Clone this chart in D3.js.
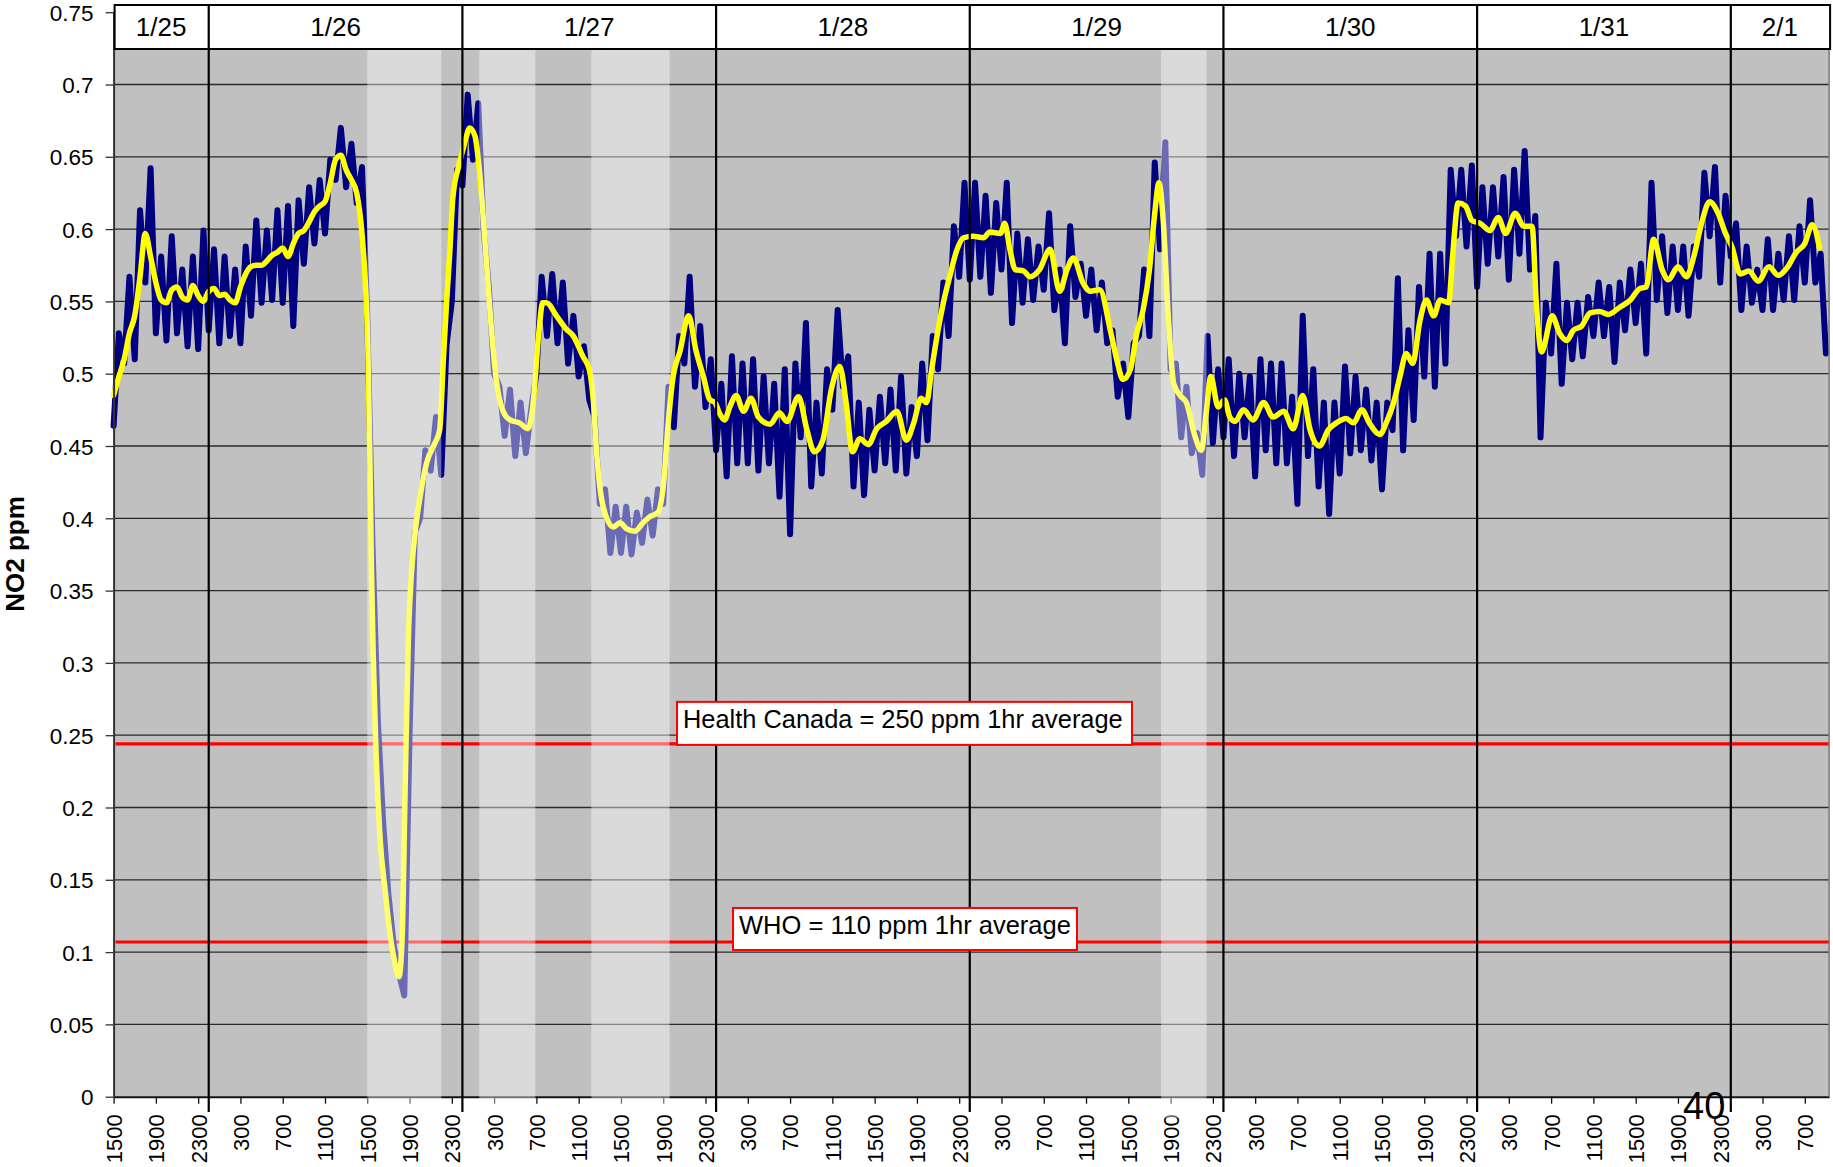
<!DOCTYPE html>
<html>
<head>
<meta charset="utf-8">
<script src="https://cdn.jsdelivr.net/npm/d3@7"></script>
<style>
  body { margin: 0; background: #fff; }
  svg { display: block; }
  text { font-family: "Liberation Sans", Arial, Helvetica, sans-serif; fill: #000; }
</style>
</head>
<body>
<svg id="chart" width="1833" height="1167"></svg>
<script>
// ---- data -------------------------------------------------------------
// Time is measured in hours from 1/25 15:00.
const dayLabels = ['1/25', '1/26', '1/27', '1/28', '1/29', '1/30', '1/31', '2/1'];
const dayStartHours = [0, 9, 33, 57, 81, 105, 129, 153];
const endHour = 162.3;

const hourTickHours = d3.range(0, 161, 4);
const hourTickLabels = [
  '1500', '1900', '2300', '300', '700', '1100',
  '1500', '1900', '2300', '300', '700', '1100',
  '1500', '1900', '2300', '300', '700', '1100',
  '1500', '1900', '2300', '300', '700', '1100',
  '1500', '1900', '2300', '300', '700', '1100',
  '1500', '1900', '2300', '300', '700', '1100',
  '1500', '1900', '2300', '300', '700'
];

const yTickValues = [0, 0.05, 0.1, 0.15, 0.2, 0.25, 0.3, 0.35, 0.4, 0.45, 0.5, 0.55, 0.6, 0.65, 0.7, 0.75];
const yTickLabels = ['0', '0.05', '0.1', '0.15', '0.2', '0.25', '0.3', '0.35', '0.4', '0.45', '0.5', '0.55', '0.6', '0.65', '0.7', '0.75'];

// Raw NO2 readings (ppm), one every 30 minutes starting at hour 0.
const rawNO2 = [
  0.464,0.528,0.507,0.567,0.51,0.613,0.563,0.642,0.528,0.581,0.523,0.595,0.528,0.572,0.519,0.581,0.517,0.599,0.53,0.586,
  0.521,0.581,0.526,0.572,0.521,0.588,0.54,0.606,0.549,0.599,0.551,0.613,0.549,0.616,0.533,0.62,0.576,0.629,0.59,0.634,
  0.597,0.648,0.634,0.67,0.629,0.659,0.618,0.643,0.54,0.38,0.26,0.19,0.14,0.105,0.085,0.07,0.25,0.39,0.40,0.447,
  0.433,0.47,0.43,0.52,0.55,0.641,0.63,0.693,0.648,0.687,0.60,0.56,0.50,0.491,0.457,0.489,0.443,0.48,0.445,0.475,
  0.50,0.567,0.526,0.569,0.521,0.563,0.507,0.54,0.498,0.519,0.482,0.47,0.41,0.42,0.376,0.408,0.376,0.408,0.375,0.404,
  0.383,0.413,0.388,0.42,0.41,0.491,0.463,0.526,0.507,0.567,0.491,0.533,0.477,0.51,0.447,0.493,0.429,0.512,0.438,0.507,
  0.438,0.51,0.433,0.498,0.438,0.493,0.415,0.503,0.389,0.507,0.456,0.535,0.422,0.48,0.431,0.503,0.475,0.544,0.491,0.512,
  0.422,0.48,0.416,0.475,0.433,0.484,0.438,0.489,0.433,0.498,0.431,0.477,0.443,0.507,0.454,0.526,0.503,0.563,0.526,0.602,
  0.567,0.632,0.565,0.632,0.567,0.623,0.556,0.618,0.572,0.632,0.535,0.597,0.549,0.593,0.551,0.588,0.558,0.611,0.544,0.572,
  0.521,0.602,0.553,0.576,0.54,0.572,0.53,0.563,0.521,0.53,0.484,0.507,0.47,0.521,0.526,0.572,0.526,0.646,0.586,0.66,
  0.503,0.507,0.456,0.491,0.445,0.459,0.43,0.526,0.452,0.503,0.456,0.51,0.443,0.50,0.456,0.498,0.429,0.51,0.447,0.507,
  0.438,0.507,0.438,0.484,0.41,0.54,0.443,0.503,0.422,0.48,0.403,0.48,0.431,0.505,0.445,0.498,0.447,0.489,0.44,0.48,
  0.42,0.48,0.461,0.566,0.447,0.53,0.468,0.56,0.498,0.583,0.491,0.583,0.507,0.641,0.595,0.641,0.588,0.644,0.56,0.629,
  0.576,0.629,0.581,0.636,0.565,0.641,0.583,0.654,0.572,0.609,0.456,0.549,0.514,0.576,0.493,0.549,0.51,0.549,0.512,0.553,
  0.526,0.563,0.526,0.56,0.508,0.563,0.53,0.572,0.535,0.576,0.514,0.632,0.551,0.595,0.542,0.588,0.544,0.588,0.54,0.588,
  0.567,0.639,0.595,0.643,0.563,0.623,0.581,0.604,0.544,0.588,0.549,0.572,0.544,0.593,0.544,0.583,0.551,0.595,0.551,0.602,
  0.563,0.62,0.563,0.583,0.514
];

// Running average of NO2 (ppm) as [hour, value].
const avgNO2 = [
  [0,0.485],[0.5,0.498],[1,0.51],[1.5,0.528],[2,0.54],[2.5,0.567],[3,0.597],[3.5,0.581],[4,0.563],[4.5,0.551],
  [5,0.549],[5.5,0.558],[6,0.56],[6.5,0.553],[7,0.551],[7.5,0.561],[8,0.554],[8.5,0.55],[9,0.557],[9.5,0.559],
  [10,0.554],[10.5,0.555],[11,0.551],[11.5,0.549],[12,0.56],[12.5,0.569],[13,0.574],[13.5,0.575],[14,0.575],[14.5,0.578],
  [15,0.582],[15.5,0.584],[16,0.587],[16.5,0.581],[17,0.59],[17.5,0.597],[18,0.599],[18.5,0.605],[19,0.612],[19.5,0.616],
  [20,0.619],[20.5,0.632],[21,0.648],[21.5,0.651],[22,0.641],[22.5,0.634],[23,0.625],[23.5,0.597],[23.8,0.565],[24.05,0.52],
  [24.25,0.44],[24.4,0.364],[24.8,0.245],[25.2,0.18],[25.7,0.142],[26.2,0.11],[26.6,0.093],[27,0.083],[27.3,0.11],[27.6,0.22],
  [27.9,0.32],[28.2,0.364],[28.6,0.395],[29,0.415],[29.6,0.438],[30.4,0.452],[30.85,0.461],[31.2,0.51],[31.5,0.549],[31.8,0.583],
  [32.1,0.622],[32.7,0.645],[33.2,0.659],[33.7,0.67],[34.2,0.664],[34.6,0.641],[35.1,0.595],[35.6,0.544],[36.2,0.496],[36.8,0.475],
  [37.5,0.468],[38.4,0.466],[39.2,0.462],[39.7,0.48],[40.2,0.526],[40.6,0.549],[40.95,0.549],[41.9,0.54],[42.8,0.531],[43.5,0.526],
  [44.4,0.512],[45,0.503],[45.4,0.48],[45.7,0.445],[46,0.422],[46.6,0.401],[47.3,0.394],[47.9,0.397],[48.5,0.393],[49.3,0.391],
  [50.1,0.397],[50.7,0.401],[51.5,0.404],[52,0.422],[52.5,0.468],[52.9,0.496],[53.6,0.516],[54.4,0.54],[55.1,0.516],[55.8,0.498],
  [56.4,0.482],[56.9,0.48],[57.3,0.473],[57.8,0.468],[58.3,0.477],[58.9,0.485],[59.6,0.474],[60.3,0.483],[61,0.47],[62.1,0.465],
  [63,0.473],[63.7,0.467],[64.8,0.484],[65.6,0.461],[66.3,0.446],[67.1,0.454],[67.9,0.489],[68.7,0.505],[69.3,0.48],[69.9,0.446],
  [70.6,0.455],[71.4,0.451],[72.2,0.462],[73.1,0.467],[74.1,0.474],[75,0.454],[75.7,0.466],[76.4,0.483],[76.9,0.48],[77.4,0.503],
  [77.9,0.526],[78.5,0.549],[79.1,0.567],[79.8,0.586],[80.4,0.594],[81.3,0.595],[82.3,0.594],[82.9,0.598],[83.9,0.597],[84.3,0.604],
  [84.8,0.586],[85.3,0.572],[86.1,0.571],[86.7,0.567],[87.6,0.572],[88.6,0.586],[89.5,0.557],[90.2,0.572],[90.8,0.58],[91.7,0.563],
  [92.4,0.557],[93.3,0.558],[94.3,0.53],[94.9,0.51],[95.5,0.496],[96.2,0.503],[96.8,0.528],[97.4,0.544],[98,0.572],[98.5,0.611],
  [98.9,0.632],[99.3,0.606],[99.8,0.537],[100.3,0.493],[100.9,0.485],[101.5,0.48],[102.3,0.457],[102.9,0.447],[103.4,0.475],[103.8,0.498],
  [104.5,0.477],[105.1,0.482],[105.6,0.47],[106.1,0.467],[106.9,0.475],[107.8,0.468],[108.8,0.48],[109.7,0.47],[110.7,0.474],[111.6,0.462],
  [112.5,0.485],[113.2,0.461],[114.1,0.45],[114.9,0.461],[115.7,0.466],[116.6,0.469],[117.3,0.466],[118.1,0.475],[118.8,0.466],[119.8,0.458],
  [120.4,0.466],[121.1,0.48],[121.7,0.498],[122.3,0.514],[122.9,0.507],[123.6,0.537],[124.2,0.551],[124.9,0.54],[125.5,0.551],[126.3,0.549],
  [126.7,0.583],[127.2,0.618],[127.9,0.616],[128.5,0.606],[129.3,0.604],[130.2,0.599],[131,0.608],[131.7,0.597],[132.6,0.611],[133.4,0.602],
  [134.2,0.602],[134.6,0.549],[135.1,0.515],[136.1,0.54],[136.8,0.528],[137.5,0.523],[138.1,0.53],[138.9,0.533],[139.7,0.542],[140.6,0.543],
  [141.4,0.541],[142.5,0.546],[143.5,0.551],[144.4,0.559],[145,0.56],[145.7,0.593],[146.5,0.572],[147.1,0.565],[148,0.574],[148.8,0.567],
  [149.5,0.581],[150.3,0.606],[151,0.619],[151.8,0.611],[152.5,0.597],[153.1,0.588],[153.9,0.569],[154.7,0.571],[155.6,0.564],[156.6,0.574],
  [157.5,0.568],[158.3,0.573],[159.2,0.584],[160,0.59],[160.7,0.603],[161.4,0.587]
];

// Shaded periods [start hour, end hour].
const shadedPeriods = [[24.0, 31.0], [34.6, 39.9], [45.2, 52.6], [99.1, 103.4]];

// Exposure guideline lines.
const guidelineLabels = ['Health Canada = 250 ppm 1hr average', 'WHO = 110 ppm 1hr average'];
const guidelineValues = [0.244, 0.107];

// ---- layout -----------------------------------------------------------
const svg = d3.select('#chart');
const x = d3.scaleLinear().domain([0, endHour]).range([113.6, 1829.1]);
const y = d3.scaleLinear().domain([0, 0.75]).range([1096.7, 12.2]);
const x0 = x(0), x1 = x(endHour);
const headerTop = 5, headerBottom = 49;

// plot background
svg.append('rect')
  .attr('x', x0).attr('y', y(0.75))
  .attr('width', x1 - x0).attr('height', y(0) - y(0.75))
  .attr('fill', '#C0C0C0');

// horizontal gridlines
svg.append('g').selectAll('line')
  .data(yTickValues.filter(v => v > 0))
  .join('line')
  .attr('x1', x0).attr('x2', x1)
  .attr('y1', d => y(d)).attr('y2', d => y(d))
  .attr('stroke', '#2a2a2a').attr('stroke-width', 1.3);

// guideline lines
svg.append('g').selectAll('line')
  .data(guidelineValues)
  .join('line')
  .attr('x1', x0 + 2).attr('x2', x1)
  .attr('y1', d => y(d)).attr('y2', d => y(d))
  .attr('stroke', '#FF0000').attr('stroke-width', 3.2);

// raw readings
const rawLine = d3.line()
  .x((d, i) => x(i * 0.5))
  .y(d => y(d));
svg.append('path')
  .datum(rawNO2)
  .attr('d', rawLine)
  .attr('fill', 'none')
  .attr('stroke', '#000080')
  .attr('stroke-width', 6)
  .attr('stroke-linejoin', 'round')
  .attr('stroke-linecap', 'round');

// running average
const avgLine = d3.line()
  .x(d => x(d[0]))
  .y(d => y(d[1]))
  .curve(d3.curveMonotoneX);
svg.append('path')
  .datum(avgNO2)
  .attr('d', avgLine)
  .attr('fill', 'none')
  .attr('stroke', '#FFFF00')
  .attr('stroke-width', 5.5)
  .attr('stroke-linejoin', 'round')
  .attr('stroke-linecap', 'round');

// x axis
const xAxis = d3.axisBottom(x)
  .tickValues(hourTickHours)
  .tickFormat((d, i) => hourTickLabels[i])
  .tickSize(7)
  .tickSizeOuter(0);
const gx = svg.append('g')
  .attr('transform', `translate(0,${y(0)})`)
  .call(xAxis);
gx.select('.domain').attr('stroke', '#111').attr('stroke-width', 2);
gx.selectAll('.tick line').attr('stroke', '#111').attr('stroke-width', 1.3);
gx.selectAll('.tick text')
  .attr('transform', 'rotate(-90)')
  .attr('x', -17.5).attr('y', 0).attr('dy', '0.36em')
  .attr('text-anchor', 'end')
  .style('font-size', '22px')
  .style('font-family', '"Liberation Sans", Arial, sans-serif')
  .attr('fill', '#000');

// y axis
const yAxis = d3.axisLeft(y)
  .tickValues(yTickValues)
  .tickFormat((d, i) => yTickLabels[i])
  .tickSize(8)
  .tickPadding(12)
  .tickSizeOuter(0);
const gy = svg.append('g')
  .attr('transform', `translate(${x0},0)`)
  .call(yAxis);
gy.select('.domain').attr('stroke', '#333').attr('stroke-width', 2);
gy.selectAll('.tick line').attr('stroke', '#333').attr('stroke-width', 1.3);
gy.selectAll('.tick text')
  .attr('dy', '0.36em')
  .style('font-size', '22.5px')
  .style('font-family', '"Liberation Sans", Arial, sans-serif')
  .attr('fill', '#000');

// right border of plot area
svg.append('line')
  .attr('x1', x1).attr('x2', x1)
  .attr('y1', headerBottom).attr('y2', y(0))
  .attr('stroke', '#7a7a7a').attr('stroke-width', 1.5);

// shaded periods (translucent light overlay)
const shadeBottoms = [1104, 1104, 1104, 1118];
svg.append('g').selectAll('rect')
  .data(shadedPeriods)
  .join('rect')
  .attr('x', d => x(d[0]))
  .attr('width', d => x(d[1]) - x(d[0]))
  .attr('y', headerBottom + 1)
  .attr('height', (d, i) => shadeBottoms[i] - headerBottom - 1)
  .attr('fill', '#FFFFFF')
  .attr('fill-opacity', 0.42);

// date header
svg.append('rect')
  .attr('x', x0 + 1).attr('y', headerTop)
  .attr('width', x1 - x0).attr('height', headerBottom - headerTop)
  .attr('fill', '#FFFFFF')
  .attr('stroke', '#000').attr('stroke-width', 2);

const dayEdges = dayStartHours.concat([endHour]);
svg.append('g').selectAll('text')
  .data(dayLabels)
  .join('text')
  .attr('x', (d, i) => (x(dayEdges[i]) + x(dayEdges[i + 1])) / 2)
  .attr('y', 36)
  .attr('text-anchor', 'middle')
  .style('font-size', '26px')
  .text(d => d);

// day separators
svg.append('g').selectAll('line')
  .data(dayStartHours.slice(1))
  .join('line')
  .attr('x1', d => x(d)).attr('x2', d => x(d))
  .attr('y1', headerTop).attr('y2', 1112)
  .attr('stroke', '#000').attr('stroke-width', 2.2);

// guideline labels
const labelBoxes = [
  { left: 677, width: 455, height: 43, rise: 42, size: 25.4 },
  { left: 733, width: 344, height: 42, rise: 34, size: 25.5 }
];
guidelineLabels.forEach((label, i) => {
  const b = labelBoxes[i];
  const top = y(guidelineValues[i]) - b.rise;
  svg.append('rect')
    .attr('x', b.left).attr('y', top)
    .attr('width', b.width).attr('height', b.height)
    .attr('fill', '#FFFFFF')
    .attr('stroke', '#FF0000').attr('stroke-width', 2);
  svg.append('text')
    .attr('x', b.left + 6).attr('y', top + 26)
    .style('font-size', b.size + 'px')
    .text(label);
});

// y axis title
svg.append('text')
  .attr('transform', 'translate(15,554) rotate(-90)')
  .attr('text-anchor', 'middle')
  .attr('dy', '0.35em')
  .style('font-size', '26px')
  .style('font-weight', 'bold')
  .text('NO2 ppm');

// page number
svg.append('text')
  .attr('x', 1683).attr('y', 1119)
  .style('font-size', '38px')
  .text('40');
</script>
</body>
</html>
